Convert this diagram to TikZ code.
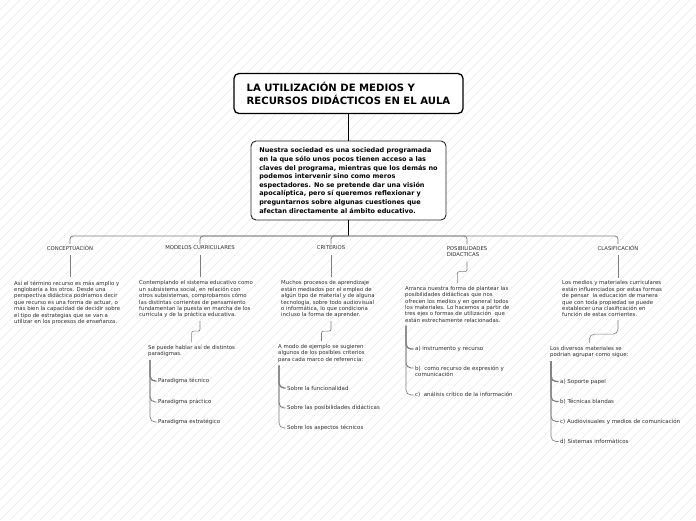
\documentclass[tikz,border=0pt]{standalone}
\usepackage{fontspec}
\setmainfont{DejaVu Sans}
\usetikzlibrary{positioning, calc}
\definecolor{mapink}{RGB}{45, 45, 45}
\definecolor{mapline}{RGB}{125, 125, 125}
\definecolor{maphatch}{RGB}{232, 232, 232}
\tikzset{
  titlebox/.style={draw=black, line width=1.3pt, fill=white, rounded corners=5pt, align=left,
    font=\fontsize{10.1}{12.6}\selectfont\bfseries, minimum width=229pt, minimum height=40pt, inner xsep=0pt},
  introbox/.style={draw=black!85, line width=0.9pt, fill=white, rounded corners=5pt, align=left,
    font=\fontsize{6.5}{8.6}\selectfont\bfseries, minimum width=195pt, minimum height=79pt, inner xsep=0pt},
  headlabel/.style={font=\fontsize{5.3}{6.8}\selectfont, text=mapink, inner sep=1.5pt, align=left},
  bodytext/.style={font=\fontsize{5.4}{6.4}\selectfont, text=mapink, inner sep=0pt, align=left, anchor=north west},
  itemtext/.style={font=\fontsize{5.5}{6.4}\selectfont, text=mapink, inner sep=0pt, align=left, anchor=west},
  stem/.style={draw=mapline, line width=0.6pt, rounded corners=2pt},
  twig/.style={draw=mapline, line width=#1, rounded corners=5pt, shorten >=1.5pt},
  hatchline/.style={draw=maphatch, line width=0.4pt}
}

\begin{document}
\begin{tikzpicture}[x=1pt, y=-1pt]
  \useasboundingbox (0,0) rectangle (696,520);
  \begin{scope}
    \clip (0,0) rectangle (696,520);
    \foreach \k in {-52,...,70}
      \draw[hatchline] (\k*10,520) -- ++(520,-520);
  \end{scope}

  \node[titlebox] (title) at (348.5,93.5) {LA UTILIZACIÓN DE MEDIOS Y\\RECURSOS DIDÁCTICOS EN EL AULA};
  \node[introbox] (intro) at (348.5,180.5) {Nuestra sociedad es una sociedad programada\\
    en la que sólo unos pocos tienen acceso a las\\
    claves del programa, mientras que los demás no\\
    podemos intervenir sino como meros\\
    espectadores. No se pretende dar una visión\\
    apocalíptica, pero sí queremos reflexionar y\\
    preguntarnos sobre algunas cuestiones que\\
    afectan directamente al ámbito educativo.};
  \draw[line width=0.9pt] (title.south) -- (intro.north);

  \node[headlabel] (lab1) at (70,248) {CONCEPTUACIÓN};
  \node[headlabel] (lab2) at (200,248) {MODELOS CURRICULARES};
  \node[headlabel] (lab3) at (331,248) {CRITERIOS};
  \node[headlabel] (lab4) at (467,251.5) {POSIBILIDADES\\DIDACTICAS};
  \node[headlabel] (lab5) at (618,248) {CLASIFICACIÓN};
  \coordinate (hub) at (intro.south |- 0,236);
  \draw[line width=0.9pt] (intro.south) -- (hub);
  \draw[draw=mapline, line width=0.8pt, rounded corners=3pt] (lab1.north) |- (hub) -| (lab5.north);
  \foreach \n in {lab2,lab3,lab4}
    \draw[draw=mapline, line width=0.8pt, rounded corners=3pt] (\n.north) |- (hub);

  \node[bodytext] (txt1) at (14,280.5) {Así el término recurso es más amplio y\\
    englobaría a los otros. Desde una\\
    perspectiva didáctica podríamos decir\\
    que recurso es una forma de actuar, o\\
    más bien la capacidad de decidir sobre\\
    el tipo de estrategias que se van a\\
    utilizar en los procesos de enseñanza.};
  \node[bodytext] (txt2) at (139,280.5) {Contemplando el sistema educativo como\\
    un subsistema social, en relación con\\
    otros subsistemas, comprobamos cómo\\
    las distintas corrientes de pensamiento\\
    fundamentan la puesta en marcha de los\\
    currícula y de la práctica educativa.};
  \node[bodytext] (txt3) at (281,280.5) {Muchos procesos de aprendizaje\\
    están mediados por el empleo de\\
    algún tipo de material y de alguna\\
    tecnología, sobre todo audiovisual\\
    o informática, lo que condiciona\\
    incluso la forma de aprender.};
  \node[bodytext] (txt4) at (405,286) {Arranca nuestra forma de plantear las\\
    posibilidades didácticas que nos\\
    ofrecen los medios y en general todos\\
    los materiales. Lo hacemos a partir de\\
    tres ejes o formas de utilización \ que\\
    están estrechamente relacionadas.};
  \node[bodytext] (txt5) at (562,280.5) {Los medios y materiales curriculares\\
    están influenciados por estas formas\\
    de pensar \ la educación de manera\\
    que con toda propiedad se puede\\
    establecer una clasificación en\\
    función de estas corrientes.};

  \draw[stem, shorten <=3pt, shorten >=4pt] (lab1.south) -- (lab1.south |- txt1.north);
  \draw[stem, shorten <=3pt, shorten >=4pt] (lab2.south) -- (lab2.south |- txt2.north);
  \draw[stem, shorten <=3pt, shorten >=4pt] (lab3.south) -- (lab3.south |- txt3.north);
  \draw[stem, shorten <=3pt, shorten >=3pt] (lab5.south) -- (lab5.south |- txt5.north);
  \draw[stem, shorten >=3pt] ([yshift=-3pt]lab4.south) -- ++(0,10) -| (txt4.north);

  \node[bodytext] (sub2) at (148,345) {Se puede hablar así de distintos\\paradigmas.};
  \node[bodytext] (sub3) at (278,344) {A modo de ejemplo se sugieren\\algunos de los posibles criterios\\para cada marco de referencia:};
  \node[bodytext] (sub5) at (550,346) {Los diversos materiales se\\podrían agrupar como sigue:};
  \draw[stem, shorten >=3pt] ([yshift=-3pt]lab2.south |- txt2.south) -- ++(0,10) -| (sub2.north);
  \draw[stem, shorten >=3pt] ([yshift=-3pt]lab3.south |- txt3.south) -- ++(0,10) -| (sub3.north);
  \draw[stem, rounded corners=5pt, shorten >=3pt] ([yshift=-3pt]lab5.south |- txt5.south) -- ++(0,14) -| (sub5.north);

  \node[itemtext] (par1) at (158,381) {Paradigma técnico};
  \node[itemtext] (par2) at (158,402) {Paradigma práctico};
  \node[itemtext] (par3) at (158,422) {Paradigma estratégico};
  \coordinate (bar2) at ([xshift=2pt,yshift=-3pt]sub2.south west);
  \foreach \n/\w in {1/1.3,2/0.95,3/0.65}
    \draw[twig=\w pt] (bar2) |- (par\n.west);

  \node[itemtext] (cri1) at (287,388) {Sobre la funcionalidad};
  \node[itemtext] (cri2) at (287,408) {Sobre las posibilidades didácticas};
  \node[itemtext] (cri3) at (287,428) {Sobre los aspectos técnicos};
  \coordinate (bar3) at ([xshift=1pt,yshift=-3pt]sub3.south west);
  \foreach \n/\w in {1/1.3,2/0.95,3/0.65}
    \draw[twig=\w pt] (bar3) |- (cri\n.west);

  \node[itemtext] (eje1) at (415,349) {a) instrumento y recurso};
  \node[bodytext, font=\fontsize{5.5}{6.6}\selectfont] (eje2) at (415,365.5) {b) \ como recurso de expresión y\\comunicación};
  \node[itemtext] (eje3) at (415,395) {c) \ análisis crítico de la información};
  \coordinate (bar4) at ([xshift=1pt,yshift=-3pt]txt4.south west);
  \draw[twig=1.3pt] (bar4) |- (eje1.west);
  \draw[twig=0.95pt] (bar4) |- ([yshift=-2.5pt]eje2.north west);
  \draw[twig=0.65pt] (bar4) |- (eje3.west);

  \node[itemtext] (cla1) at (560,381.5) {a) Soporte papel};
  \node[itemtext] (cla2) at (560,401.5) {b) Técnicas blandas};
  \node[itemtext] (cla3) at (560,421.5) {c) Audiovisuales y medios de comunicación};
  \node[itemtext] (cla4) at (560,441.5) {d) Sistemas informáticos};
  \coordinate (bar5) at ([xshift=1pt,yshift=-3pt]sub5.south west);
  \foreach \n/\w in {1/1.4,2/1.1,3/0.85,4/0.6}
    \draw[twig=\w pt] (bar5) |- (cla\n.west);
\end{tikzpicture}
\end{document}
